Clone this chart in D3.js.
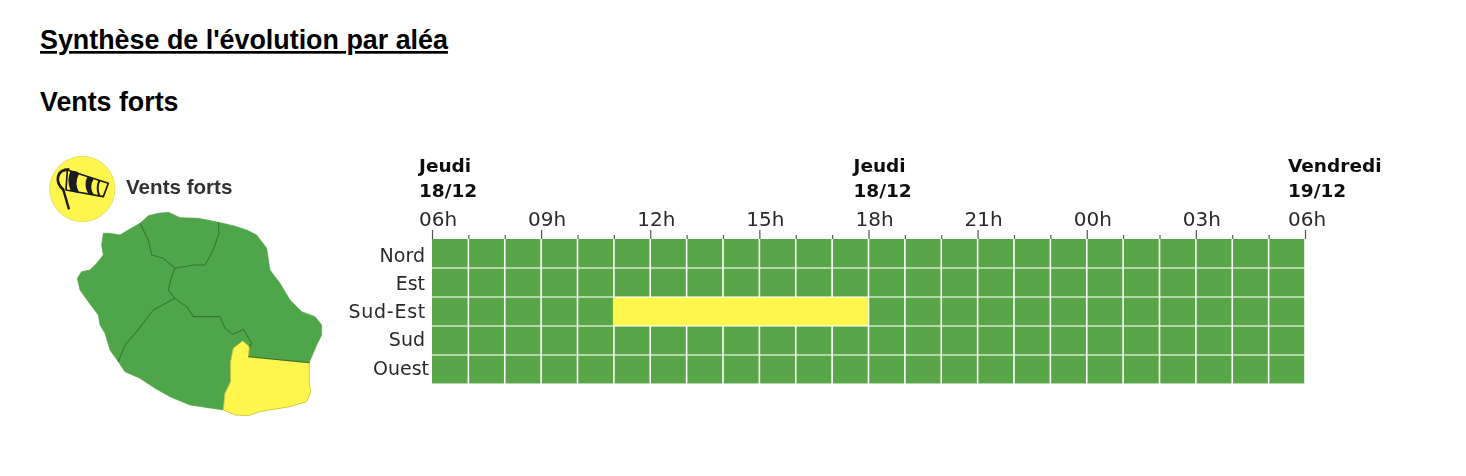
<!DOCTYPE html>
<html><head><meta charset="utf-8">
<script src="https://cdn.jsdelivr.net/npm/d3@7/dist/d3.min.js"></script>
<style>
html,body{margin:0;padding:0;background:#fff}
svg{display:block}
.h{font-family:"Liberation Sans",Arial,sans-serif;font-weight:700;fill:#000}
.d{font-family:"DejaVu Sans",sans-serif;fill:#2a2a2a}
</style></head><body>
<svg id="c" width="1466" height="476"></svg>
<script>
// ---------- data ----------
const pageTitle = "Synthèse de l'évolution par aléa";
const sectionTitle = "Vents forts";
const zones = ["Nord", "Est", "Sud-Est", "Sud", "Ouest"];
const hourLabels = ["06h","09h","12h","15h","18h","21h","00h","03h","06h"];
const dayLabels = [["Jeudi","18/12"],["Jeudi","18/12"],["Vendredi","19/12"]];
const nord   = [0,0,0,0,0,0,0,0,0,0,0,0,0,0,0,0,0,0,0,0,0,0,0,0];
const est    = [0,0,0,0,0,0,0,0,0,0,0,0,0,0,0,0,0,0,0,0,0,0,0,0];
const sudEst = [0,0,0,0,0,1,1,1,1,1,1,1,0,0,0,0,0,0,0,0,0,0,0,0];
const sud    = [0,0,0,0,0,0,0,0,0,0,0,0,0,0,0,0,0,0,0,0,0,0,0,0];
const ouest  = [0,0,0,0,0,0,0,0,0,0,0,0,0,0,0,0,0,0,0,0,0,0,0,0];
const levels = [nord, est, sudEst, sud, ouest];
const levelColors = ["#58a646", "#fff64e"];
const mapColors = ["#50a548", "#fff64e"];

// map outline pieces
const bNW = [[330,250],[355,300],[365,345],[400,355],[435,385]];
const bNE = [[565,247],[567,280],[550,330],[525,375],[490,375],[435,385]];
const bWE = [[435,385],[425,410],[415,450],[435,475]];
const bWS = [[435,475],[370,510],[320,575],[285,615],[265,665]];
const bES = [[435,475],[470,500],[490,530],[570,530],[585,565],[610,583],[640,568],[665,610],[658,622]];
const bESE = [[655,650],[838,668]];
const cN = [[330,250],[355,227],[385,220],[415,217],[450,233],[505,235],[565,247]];
const cE = [[565,247],[610,257],[650,270],[680,285],[710,325],[720,390],[750,430],[780,480],[815,515],[855,530],[875,555],[875,585],[860,615],[838,667]];
const cSE = [[838,667],[838,735],[843,755],[830,785],[780,800],[720,810],[690,815],[655,827],[615,825],[580,810]];
const bSSE = [[580,810],[585,760],[602,725],[602,665],[610,625],[638,603],[658,620]];
const cS = [[580,810],[480,795],[420,770],[375,745],[330,715],[285,695],[265,665]];
const cW = [[265,665],[240,630],[225,580],[210,555],[205,525],[175,485],[150,450],[142,415],[155,395],[180,390],[200,370],[220,345],[215,315],[220,280],[240,280],[270,285],[295,270],[330,250]];
const rev = a => a.slice().reverse();
const mapRegions = [
  {pts:[...cN,...bNE,...rev(bNW)], level:0},
  {pts:[...cW,...bNW,...rev(bWE),...bWS], level:0},
  {pts:[...cE,...rev(bESE),...rev(bES),...rev(bWE),...rev(bNE)], level:0},
  {pts:[...cS,...rev(bWS),...bES,...rev(bSSE)], level:0},
  {pts:[...cSE,...bSSE,...bESE], level:1}
];
const mapBorders = [bNW,bNE,bWE,bWS,bES,bESE];

// ---------- drawing ----------
const svg = d3.select("#c");
svg.append("defs").append("filter").attr("id","soft").append("feGaussianBlur").attr("stdDeviation",0.55);

svg.append("text").attr("class","h").attr("x",40).attr("y",49).attr("font-size",26.87)
   .attr("text-decoration","underline").text(pageTitle);
svg.append("text").attr("class","h").attr("x",40).attr("y",111).attr("font-size",26.8).text(sectionTitle);

// map
const m = svg.append("g").attr("transform","translate(30,140) scale(0.3333)").attr("filter","url(#soft)");
const closed = d3.line().curve(d3.curveLinearClosed);
const open = d3.line();
m.selectAll("path.r").data(mapRegions).join("path").attr("class","r")
  .attr("d",d=>closed(d.pts)).attr("fill",d=>mapColors[d.level])
  .attr("stroke",d=>d.level?"#c9c23f":mapColors[0]).attr("stroke-width",d=>d.level?2.5:2).attr("stroke-linejoin","round");
m.selectAll("path.b").data(mapBorders).join("path").attr("class","b")
  .attr("d",open).attr("fill","none").attr("stroke","#37762f").attr("stroke-width",3.2).attr("stroke-linejoin","round");

// icon
const ic = svg.append("g").attr("transform","translate(30,140) scale(0.3333)").attr("filter","url(#soft)");
ic.append("circle").attr("cx",157).attr("cy",147).attr("r",98).attr("fill","#fff64e").attr("stroke","#d9d050").attr("stroke-width",2);
ic.append("path").attr("d","M117 208 L99 146").attr("stroke","#1a1a1a").attr("stroke-width",7).attr("fill","none");
ic.append("path").attr("d","M101 150 C72 125 80 88 118 88").attr("stroke","#1a1a1a").attr("stroke-width",8).attr("fill","none");
ic.append("path").attr("d","M112 90 L235 130 L220 170 L108 150 Z").attr("fill","#fff64e").attr("stroke","#1a1a1a").attr("stroke-width",5).attr("stroke-linejoin","round");
ic.append("path").attr("d","M122 92 Q150 92 146 104 Q132 130 148 160 L122 152 Q108 120 122 92 Z").attr("fill","#1a1a1a");
ic.append("path").attr("d","M172 110 Q192 112 190 120 Q176 140 192 166 L174 160 Q160 135 172 110 Z").attr("fill","#1a1a1a");
ic.append("path").attr("d","M208 122 Q198 145 208 168").attr("fill","none").attr("stroke","#1a1a1a").attr("stroke-width",6);
svg.append("text").attr("class","h").attr("x",126).attr("y",194).attr("font-size",20.6).style("fill","#333").attr("filter","url(#soft)").text(sectionTitle);

// heat grid
const hours = d3.range(levels[0].length);
const x = d3.scaleLinear().domain([0,hours.length]).range([432,1305]);
const y = d3.scaleBand().domain(zones).range([239,384]);
const labelY = d3.scalePoint().domain(zones).range([261.5,374.5]);
const g = svg.append("g").attr("filter","url(#soft)");
const gapX = 1.6, gapY = 1.1;
g.selectAll("g.row").data(levels).join("g").attr("class","row")
 .each(function(vals,i){
   const step = x(1)-x(0);
   d3.select(this).selectAll("rect").data(vals.map((v,h)=>({v,h}))).join("rect")
    .attr("x",d=>d.v?x(d.h)-1:x(d.h)+(d.h?gapX/2:0))
    .attr("width",d=>d.v?step+0.6:step-(d.h?gapX:gapX/2))
    .attr("y",y(zones[i])+(i?gapY/2:0))
    .attr("height",y.bandwidth()-(i?gapY:gapY/2))
    .attr("fill",d=>levelColors[d.v]);
 });
g.selectAll("text.z").data(zones).join("text").attr("class","d z")
 .attr("x",(d,i)=>i==4?429:i==2?426:425).attr("y",d=>labelY(d)).attr("text-anchor","end")
 .attr("font-size",19).attr("letter-spacing",d=>d=="Sud-Est"?0.75:0).text(d=>d);

// hour axis
const axis = d3.axisTop(x).tickValues(d3.range(0,hours.length+1)).tickSize(4).tickFormat("");
const ax = g.append("g").attr("transform","translate(0,239)").call(axis);
ax.select(".domain").remove();
ax.selectAll(".tick line").attr("stroke","#555").attr("stroke-width",1.2)
  .attr("y2",d=>d%3==0?-9:-4);
g.selectAll("text.hr").data(hourLabels).join("text").attr("class","d hr")
 .attr("x",(d,i)=>x(i*3)+(i==hourLabels.length-1?2:6)).attr("y",226).attr("text-anchor","middle")
 .attr("font-size",20).text(d=>d);
// day labels
const dayTicks = [0,12,24];
const dayShift = [-13,-15,-17];
dayLabels.forEach((l,i)=>{
  [0,1].forEach(k=>g.append("text").attr("class","d").style("font-weight",700).style("fill","#111")
    .attr("x",x(dayTicks[i])+dayShift[i]).attr("y",172+k*25).attr("font-size",18.5).text(l[k]));
});
</script>
</body></html>
